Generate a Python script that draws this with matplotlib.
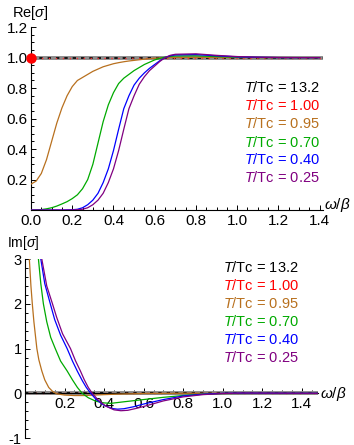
import numpy as np
import matplotlib.pyplot as plt
from matplotlib.ticker import MultipleLocator, FormatStrFormatter

plt.rcParams['font.family'] = ['Liberation Sans', 'DejaVu Sans']
plt.rcParams['mathtext.fontset'] = 'custom'
plt.rcParams['mathtext.rm'] = 'Liberation Sans'
plt.rcParams['mathtext.it'] = 'Liberation Sans:italic'

# legend entries (T/Tc) and colours
labels = ['13.2', '1.00', '0.95', '0.70', '0.40', '0.25']
colors = ['black', '#ff0000', '#b8701e', '#00aa00', '#0000ff', '#800080']

# normal state (T/Tc = 13.2) and T/Tc = 1.00: flat lines
normal_w = [0.0, 1.5]
normal_re = [1.0, 1.0]
normal_im = [0.0, 0.0]
delta_w = [0.0]
delta_re = [1.0]

# Re[sigma] curves
re_w = [0.0, 0.025, 0.05, 0.075, 0.1, 0.125, 0.15, 0.175, 0.2, 0.225, 0.25,
        0.275, 0.3, 0.325, 0.35, 0.375, 0.4, 0.425, 0.45, 0.475, 0.5, 0.525,
        0.55, 0.575, 0.6, 0.625, 0.65, 0.675, 0.7, 0.8, 0.9, 1.0, 1.1, 1.2,
        1.3, 1.4]
re_095 = [0.17, 0.19, 0.24, 0.33, 0.45, 0.57, 0.67, 0.75, 0.81, 0.85, 0.87,
          0.89, 0.91, 0.925, 0.94, 0.95, 0.96, 0.967, 0.973, 0.978, 0.982, 0.986,
          0.99, 0.993, 0.996, 0.998, 1.0, 1.0, 1.001, 1.002, 1.001, 1.0, 1.0, 1.0,
          1.0, 1.0]
re_070 = [0.0, 0.001, 0.003, 0.008, 0.015, 0.026, 0.04, 0.055, 0.075, 0.10, 0.14,
          0.2, 0.3, 0.44, 0.58, 0.69, 0.77, 0.83, 0.865, 0.89, 0.915, 0.935,
          0.955, 0.97, 0.985, 0.995, 1.003, 1.008, 1.011, 1.012, 1.007, 1.003, 1.001, 1.0,
          1.0, 1.0]
re_040 = [0.0, 0.0, 0.0, 0.0, 0.0, 0.0, 0.0, 0.001, 0.002, 0.005, 0.015,
          0.035, 0.065, 0.11, 0.18, 0.27, 0.39, 0.53, 0.665, 0.75, 0.82, 0.865,
          0.9, 0.93, 0.955, 0.98, 1.0, 1.012, 1.018, 1.02, 1.012, 1.005, 1.002, 1.0,
          1.0, 1.0]
re_025 = [0.0, 0.0, 0.0, 0.0, 0.0, 0.0, 0.0, 0.0, 0.001, 0.002, 0.005,
          0.015, 0.035, 0.065, 0.11, 0.18, 0.27, 0.39, 0.53, 0.665, 0.75, 0.825,
          0.875, 0.915, 0.945, 0.975, 1.0, 1.015, 1.022, 1.025, 1.015, 1.007, 1.003, 1.001,
          1.0, 1.0]

# Im[sigma] curves
im_w_095 = [0.02, 0.022, 0.03, 0.037, 0.045, 0.05, 0.06, 0.07, 0.085, 0.1, 0.12,
            0.14, 0.16, 0.2, 0.25, 0.3, 0.35, 0.4, 0.5, 0.6, 0.8, 1.0, 1.5]
im_095 = [3.3, 3.0, 2.4, 2.0, 1.6, 1.4, 1.0, 0.75, 0.5, 0.3, 0.13,
          0.04, -0.01, -0.04, -0.05, -0.05, -0.04, -0.03, -0.015, -0.005, 0.0, 0.0, 0.0]
im_w_070 = [0.062, 0.068, 0.08, 0.093, 0.11, 0.13, 0.153, 0.18, 0.213, 0.24, 0.265,
            0.289, 0.32, 0.36, 0.4, 0.434, 0.5, 0.6, 0.7, 0.8, 0.9, 1.0, 1.2, 1.5]
im_070 = [3.3, 3.0, 2.45, 2.0, 1.6, 1.25, 1.0, 0.72, 0.5, 0.3, 0.13,
          0.0, -0.1, -0.18, -0.215, -0.225, -0.19, -0.14, -0.09, -0.05, -0.02, -0.005, 0.0, 0.0]
im_w_040 = [0.075, 0.08, 0.1, 0.128, 0.15, 0.18, 0.213, 0.24, 0.264, 0.29, 0.31,
            0.332, 0.36, 0.4, 0.44, 0.468, 0.5, 0.55, 0.6, 0.7, 0.8, 0.9, 1.0, 1.1,
            1.2, 1.5]
im_040 = [3.3, 3.0, 2.45, 2.0, 1.65, 1.3, 1.0, 0.72, 0.5, 0.28, 0.13,
          0.0, -0.14, -0.27, -0.34, -0.355, -0.345, -0.3, -0.24, -0.14, -0.06, -0.02, 0.0, 0.005,
          0.003, 0.0]
im_w_025 = [0.08, 0.085, 0.11, 0.139, 0.16, 0.19, 0.23, 0.255, 0.28, 0.3, 0.32,
            0.34, 0.37, 0.41, 0.45, 0.485, 0.52, 0.57, 0.62, 0.7, 0.8, 0.9, 1.0, 1.1,
            1.2, 1.5]
im_025 = [3.3, 3.0, 2.4, 2.0, 1.7, 1.33, 1.0, 0.73, 0.5, 0.3, 0.13,
          0.0, -0.15, -0.29, -0.37, -0.39, -0.38, -0.33, -0.27, -0.17, -0.08, -0.03, -0.005, 0.005,
          0.004, 0.0]

fig = plt.figure(figsize=(3.54, 4.45), dpi=100)
ax1 = fig.add_axes([0.0876, 0.528, 0.824, 0.411])
ax2 = fig.add_axes([0.0706, 0.0157, 0.827, 0.402])


def style_axis(ax):
    for s in ['top', 'right']:
        ax.spines[s].set_visible(False)
    for s in ['left', 'bottom']:
        ax.spines[s].set_linewidth(0.8)
    ax.tick_params(which='both', direction='in', labelsize=11, width=0.7, pad=2.5)
    ax.tick_params(which='major', length=3.5)
    ax.tick_params(which='minor', length=2)
    ax.patch.set_alpha(0)


def flat_line(ax, x, y):
    # thick grey band with black and red dashes on top (two overlapping curves)
    ax.plot(x, y, color='0.55', lw=2.8, zorder=2, solid_capstyle='butt')
    ax.plot(x, y, color='black', lw=1.2, dashes=(2, 3), zorder=2.1)
    ax.plot(x, y, color='#ff3030', lw=1.0, linestyle=(2.5, (1, 4)), zorder=2.2)


# top panel: Re[sigma]
style_axis(ax1)
flat_line(ax1, normal_w, normal_re)
ax1.plot(delta_w, delta_re, 'o', color='#ff0000', ms=6.5, clip_on=False, zorder=5)
for y, c in zip([re_095, re_070, re_040, re_025], colors[2:]):
    ax1.plot(re_w, y, color=c, lw=0.9, zorder=3)
ax1.set_xlim(0, 1.415)
ax1.set_ylim(0, 1.2)
ax1.set_xticks([0.0, 0.2, 0.4, 0.6, 0.8, 1.0, 1.2, 1.4])
ax1.set_yticks([0.2, 0.4, 0.6, 0.8, 1.0, 1.2])
ax1.xaxis.set_major_formatter(FormatStrFormatter('%.1f'))
ax1.yaxis.set_major_formatter(FormatStrFormatter('%.1f'))
ax1.xaxis.set_minor_locator(MultipleLocator(0.05))
ax1.yaxis.set_minor_locator(MultipleLocator(0.05))

# bottom panel: Im[sigma]
style_axis(ax2)
ax2.spines['bottom'].set_position(('data', 0))
flat_line(ax2, normal_w, normal_im)
for x, y, c in zip([im_w_095, im_w_070, im_w_040, im_w_025],
                   [im_095, im_070, im_040, im_025], colors[2:]):
    ax2.plot(x, y, color=c, lw=0.9, zorder=3)
ax2.set_xlim(0, 1.48)
ax2.set_ylim(-1, 3)
ax2.set_xticks([0.2, 0.4, 0.6, 0.8, 1.0, 1.2, 1.4])
ax2.set_yticks([-1, 0, 1, 2, 3])
ax2.set_yticklabels(['-1', '0', '1', '2', '3'])
ax2.tick_params(axis='y', labelsize=10.5)
ax2.xaxis.set_major_formatter(FormatStrFormatter('%.1f'))
ax2.xaxis.set_minor_locator(MultipleLocator(0.05))
ax2.yaxis.set_minor_locator(MultipleLocator(0.2))

# axis labels
fig.text(0.085, 0.97, r'Re[$\sigma$]', fontsize=10.5, ha='center', va='center')
fig.text(0.066, 1 - 243 / 445, r'Im[$\sigma$]', fontsize=10, ha='center', va='center')
fig.text(0.915, 1 - 205 / 445, r'$\omega$/$\beta$', fontsize=11, ha='left', va='center')
fig.text(0.905, 1 - 394 / 445, r'$\omega$/$\beta$', fontsize=11, ha='left', va='center')

# text legends
for i, (lab, c) in enumerate(zip(labels, colors)):
    fig.text(0.689, 1 - (88 + 18 * i) / 445, r'$T$/Tc = ' + lab, color=c,
             fontsize=10.5, ha='left', va='center')
    fig.text(0.630, 1 - (267.7 + 18 * i) / 445, r'$T$/Tc = ' + lab, color=c,
             fontsize=10.5, ha='left', va='center')

fig.savefig('out.png', dpi=100)
